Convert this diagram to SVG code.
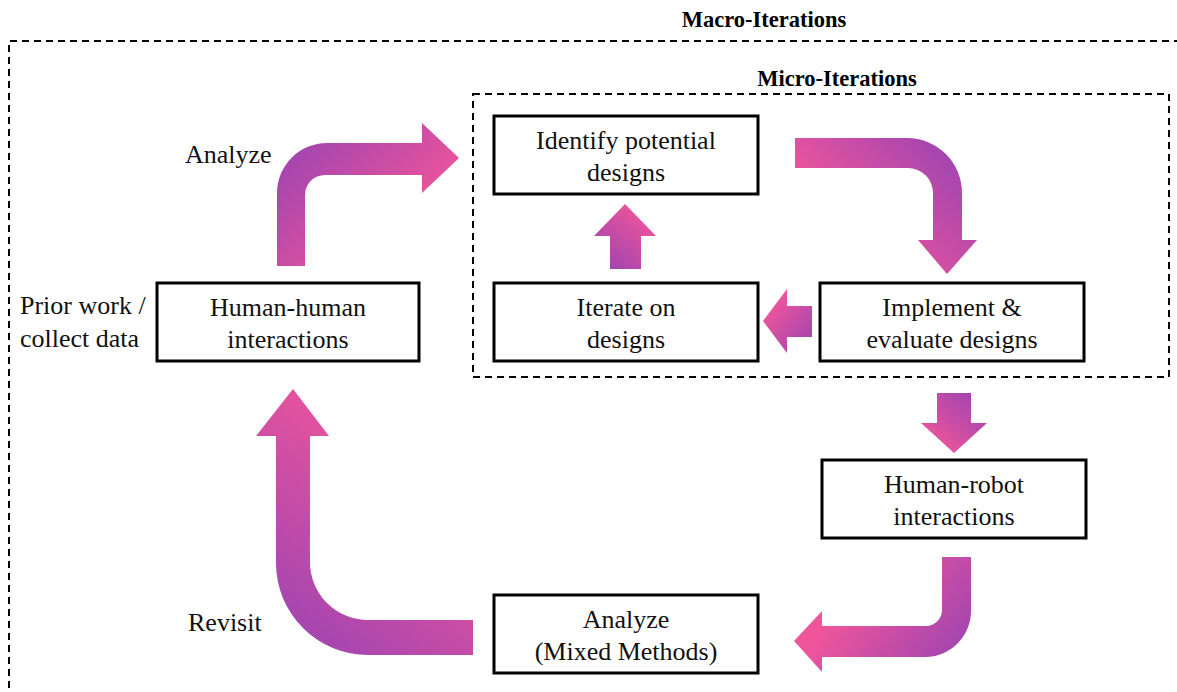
<svg xmlns="http://www.w3.org/2000/svg" width="1177" height="692" viewBox="0 0 1177 692">
<style>
.box{fill:#fff;stroke:#000;stroke-width:3}
.dash{fill:none;stroke:#000;stroke-width:2;stroke-dasharray:7 5}
text{font-family:"Liberation Serif","Times New Roman",serif}
.t{font-size:26px;fill:#111}
.c{text-anchor:middle}
.h{font-size:22.5px;font-weight:bold;fill:#000;text-anchor:middle}
</style>
<defs>
<linearGradient id="g1" gradientUnits="userSpaceOnUse" x1="280" y1="145" x2="390" y2="255"><stop offset="0" stop-color="#9C44B2"/><stop offset="1" stop-color="#F0559A"/></linearGradient>
<linearGradient id="g2" gradientUnits="userSpaceOnUse" x1="958" y1="145" x2="850" y2="245"><stop offset="0" stop-color="#9C44B2"/><stop offset="1" stop-color="#F0559A"/></linearGradient>
<linearGradient id="g3" gradientUnits="userSpaceOnUse" x1="605" y1="270" x2="650" y2="215"><stop offset="0" stop-color="#9C44B2"/><stop offset="1" stop-color="#F0559A"/></linearGradient>
<linearGradient id="g4" gradientUnits="userSpaceOnUse" x1="815" y1="345" x2="770" y2="305"><stop offset="0" stop-color="#9C44B2"/><stop offset="1" stop-color="#F0559A"/></linearGradient>
<linearGradient id="g5" gradientUnits="userSpaceOnUse" x1="975" y1="390" x2="930" y2="445"><stop offset="0" stop-color="#9C44B2"/><stop offset="1" stop-color="#F0559A"/></linearGradient>
<linearGradient id="g6" gradientUnits="userSpaceOnUse" x1="968" y1="655" x2="860" y2="575"><stop offset="0" stop-color="#9C44B2"/><stop offset="1" stop-color="#F0559A"/></linearGradient>
<linearGradient id="g7" gradientUnits="userSpaceOnUse" x1="285" y1="650" x2="440" y2="460"><stop offset="0" stop-color="#9C44B2"/><stop offset="1" stop-color="#F0559A"/></linearGradient>
</defs>
<rect width="1177" height="692" fill="#fff"/>
<g id="macro">
<path class="dash" d="M9,700 L9,41 L1190,41"/>
<text class="h" x="764" y="27">Macro-Iterations</text>
</g>
<g id="micro">
<rect class="dash" x="473" y="94" width="696" height="283"/>
<text class="h" x="837" y="86">Micro-Iterations</text>
</g>
<g id="connectors">
<path fill="url(#g1)" d="M277,266 L277,193 A50,50 0 0 1 327,143 L422,143 L422,123 L459,158 L422,193 L422,175 L325,175 A20,20 0 0 0 305,195 L305,266 Z"/>
<path fill="url(#g2)" d="M795,138 L907,138 A55,55 0 0 1 962,193 L962,240 L977,240 L947,274 L918,240 L933,240 L933,193 A25,25 0 0 0 908,168 L795,168 Z"/>
<path fill="url(#g3)" d="M610,269 L610,236 L594,236 L625,204 L656,236 L641,236 L641,269 Z"/>
<path fill="url(#g4)" d="M812,306 L787,306 L787,289 L763,321 L787,353 L787,337 L812,337 Z"/>
<path fill="url(#g5)" d="M937,393 L971,393 L971,423 L987,423 L954,453 L921,423 L937,423 Z"/>
<path fill="url(#g6)" d="M942,557 L971,557 L971,611 A46,46 0 0 1 925,657 L822,657 L822,672 L794,641 L822,611 L822,626 L926,626 A16,16 0 0 0 942,610 Z"/>
<path fill="url(#g7)" d="M473,620 L368,620 A58,58 0 0 1 310,562 L310,436 L329,436 L293,389 L256,436 L276,436 L276,563 A92,92 0 0 0 368,655 L473,655 Z"/>
</g>
<g id="label-analyze"><text class="t" x="185" y="163">Analyze</text></g>
<g id="label-prior"><text class="t" x="20" y="314">Prior work /</text><text class="t" x="20" y="347">collect data</text></g>
<g id="label-revisit"><text class="t" x="188" y="631">Revisit</text></g>
<g id="identify">
<rect class="box" x="494" y="116" width="264" height="78"/>
<text class="t c" x="626" y="149">Identify potential</text>
<text class="t c" x="626" y="181">designs</text>
</g>
<g id="iterate">
<rect class="box" x="494" y="283" width="264" height="78"/>
<text class="t c" x="626" y="316">Iterate on</text>
<text class="t c" x="626" y="348">designs</text>
</g>
<g id="implement">
<rect class="box" x="820" y="283" width="264" height="78"/>
<text class="t c" x="952" y="316">Implement &amp;</text>
<text class="t c" x="952" y="348">evaluate designs</text>
</g>
<g id="human-human">
<rect class="box" x="157" y="283" width="262" height="78"/>
<text class="t c" x="288" y="316">Human-human</text>
<text class="t c" x="288" y="348">interactions</text>
</g>
<g id="human-robot">
<rect class="box" x="822" y="460" width="264" height="78"/>
<text class="t c" x="954" y="493">Human-robot</text>
<text class="t c" x="954" y="525">interactions</text>
</g>
<g id="analyze-mixed">
<rect class="box" x="494" y="595" width="264" height="78"/>
<text class="t c" x="626" y="628">Analyze</text>
<text class="t c" x="626" y="660">(Mixed Methods)</text>
</g>
</svg>
